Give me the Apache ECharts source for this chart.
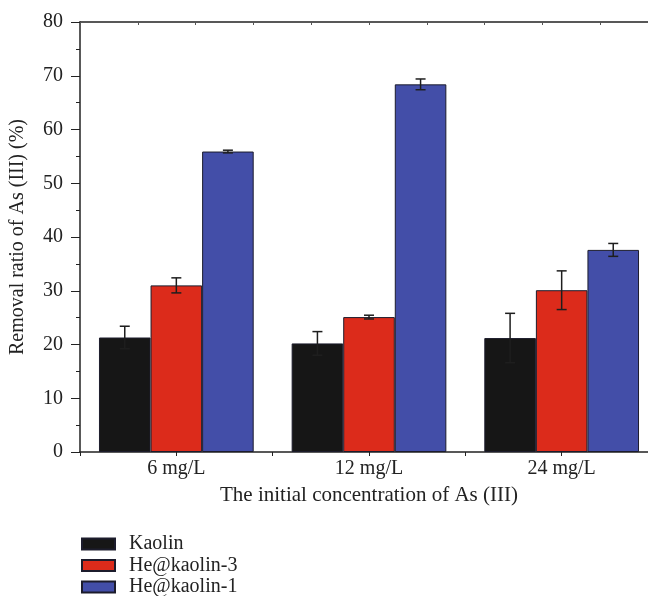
<!DOCTYPE html>
<html>
<head>
<meta charset="utf-8">
<script src="https://cdn.jsdelivr.net/npm/echarts@6/dist/echarts.min.js"></script>
<style>
  html, body { margin: 0; padding: 0; background: #ffffff; }
  #chart { width: 648px; height: 596px; }
</style>
</head>
<body>
<div id="chart"></div>
<script>
// Removal ratio of As(III) for three adsorbents at three initial concentrations
const categories = ['6 mg/L', '12 mg/L', '24 mg/L'];
const seriesNames = ['Kaolin', 'He@kaolin-3', 'He@kaolin-1'];
const kaolin = [21.3, 20.2, 21.2];
const heKaolin3 = [31.0, 25.1, 30.1];
const heKaolin1 = [55.9, 68.4, 37.6];
const kaolinErr = [2.1, 2.2, 4.6];
const heKaolin3Err = [1.4, 0.35, 3.6];
const heKaolin1Err = [0.25, 1.0, 1.2];
const yTicks = [0, 10, 20, 30, 40, 50, 60, 70, 80];

const values = [kaolin, heKaolin3, heKaolin1];
const errors = [kaolinErr, heKaolin3Err, heKaolin1Err];
const colors = ['#161616', '#dc2b1b', '#434ea8'];
const FONT = '"Liberation Serif", "DejaVu Serif", serif';
const GAP = 0.197; // share of each category band left empty

const chart = echarts.init(document.getElementById('chart'), null, { renderer: 'canvas' });

const barSeries = seriesNames.map((name, i) => ({
  name: name,
  type: 'bar',
  xAxisIndex: 0,
  yAxisIndex: 0,
  data: values[i],
  barGap: '0%',
  barCategoryGap: (GAP * 100) + '%',
  itemStyle: { color: colors[i], borderColor: '#1c1c2c', borderWidth: 1 },
  z: 2
}));

// error bars: one custom series per material, offset to sit over its bar
const errSeries = seriesNames.map((name, i) => ({
  type: 'custom',
  xAxisIndex: 0,
  yAxisIndex: 0,
  silent: true,
  z: 5,
  data: values[i].map((v, k) => [k, v, errors[i][k]]),
  renderItem: function (params, api) {
    const k = api.value(0);
    const v = api.value(1);
    const e = api.value(2);
    const band = api.size([1, 0])[0];
    const bw = band * (1 - GAP) / 3;
    const base = api.coord([k, v]);
    const x = base[0] + (i - 1) * bw;
    const yTop = api.coord([k, v + e])[1];
    const yBot = api.coord([k, v - e])[1];
    const cap = 5;
    const style = { stroke: '#1e1e1e', lineWidth: 1.5 };
    return {
      type: 'group',
      children: [
        { type: 'line', shape: { x1: x, y1: yTop, x2: x, y2: yBot }, style: style },
        { type: 'line', shape: { x1: x - cap, y1: yTop, x2: x + cap, y2: yTop }, style: style },
        { type: 'line', shape: { x1: x - cap, y1: yBot, x2: x + cap, y2: yBot }, style: style }
      ]
    };
  }
}));

// one legend row per material, stacked under the x-axis title
const legendRows = seriesNames.map((name, i) => ({
  orient: 'vertical',
  left: 81,
  top: 534 + i * 21.5,
  padding: 0,
  itemWidth: 33,
  itemHeight: 11,
  icon: 'rect',
  data: [name],
  textStyle: { fontFamily: FONT, fontSize: 20, color: '#222', padding: [0, 0, 0, 9] }
}));

const option = {
  backgroundColor: '#ffffff',
  animation: false,
  textStyle: { fontFamily: FONT },
  grid: { left: 80, top: 22, bottom: 144, width: 578, containLabel: false, outerBoundsMode: 'none' },
  legend: legendRows,
  xAxis: [
    {
      type: 'category',
      data: categories,
      position: 'bottom',
      axisLine: { show: false },
      axisTick: { show: false },
      axisLabel: { fontFamily: FONT, fontSize: 20, color: '#222', margin: 7 },
      name: 'The initial concentration of As (III)',
      nameLocation: 'middle',
      nameGap: 33,
      nameTextStyle: { fontFamily: FONT, fontSize: 21, color: '#222' }
    },
    {
      // tick marks at each category centre and boundary
      type: 'value',
      position: 'bottom',
      min: 0, max: 6, interval: 1,
      axisLine: { show: true, onZero: false, lineStyle: { color: '#222', width: 1.5 } },
      axisTick: { show: true, inside: false, length: 4, lineStyle: { color: '#222', width: 1 } },
      axisLabel: { show: false },
      splitLine: { show: false }
    },
    {
      // top frame line with small inward ticks
      type: 'value',
      position: 'top',
      min: 0, max: 10, interval: 1,
      axisLine: { show: true, onZero: false, lineStyle: { color: '#222', width: 1.5 } },
      axisTick: { show: true, inside: true, length: 3, lineStyle: { color: '#555', width: 1 } },
      axisLabel: { show: false },
      splitLine: { show: false }
    }
  ],
  yAxis: {
    type: 'value',
    min: yTicks[0],
    max: yTicks[yTicks.length - 1],
    interval: 10,
    axisLine: { show: true, onZero: false, lineStyle: { color: '#222', width: 1.5 } },
    axisTick: { show: true, inside: false, length: 9, lineStyle: { color: '#222', width: 1 } },
    minorTick: { show: true, splitNumber: 2, length: 4, lineStyle: { color: '#222', width: 1 } },
    axisLabel: { fontFamily: FONT, fontSize: 20, color: '#222', margin: 17 },
    splitLine: { show: false },
    name: 'Removal ratio of As (III) (%)',
    nameLocation: 'middle',
    nameGap: 52,
    nameRotate: 90,
    nameTextStyle: { fontFamily: FONT, fontSize: 20, color: '#222' }
  },
  series: barSeries.concat(errSeries)
};

chart.setOption(option);
</script>
</body>
</html>
